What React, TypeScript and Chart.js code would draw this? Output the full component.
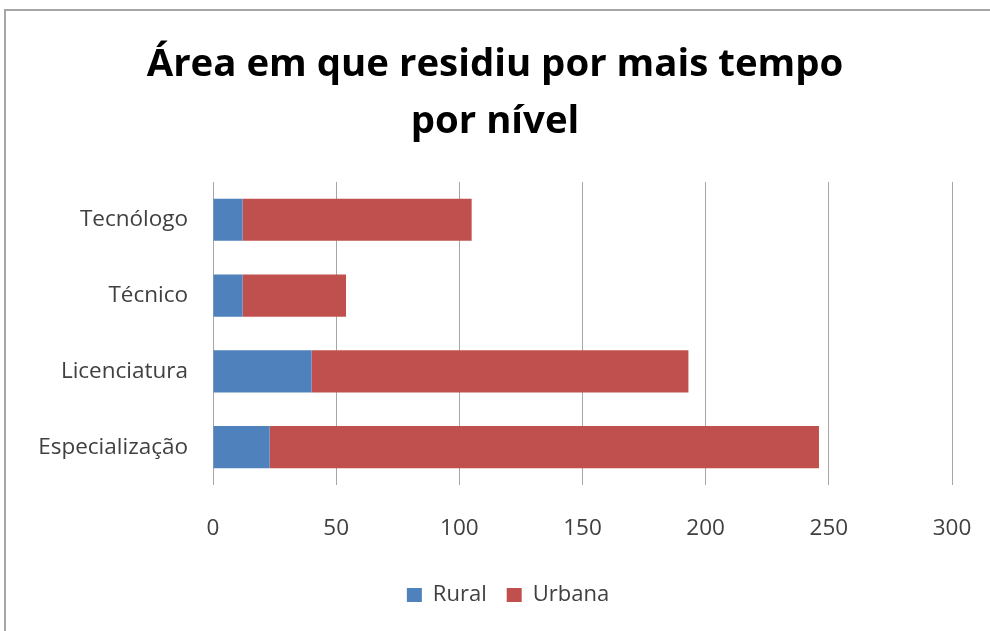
import React, { useEffect, useRef } from "react";
import { Chart, registerables } from "chart.js";

Chart.register(...registerables);

const categories = ["Tecnólogo", "Técnico", "Licenciatura", "Especialização"];
const ruralValues = [12, 12, 40, 23];
const urbanaValues = [93, 42, 153, 223];
const seriesNames = ["Rural", "Urbana"];
const titleLines = ["Área em que residiu por mais tempo", "por nível"];
const xTicks = [0, 50, 100, 150, 200, 250, 300];

const FONT = "'Open Sans', 'Noto Sans', sans-serif";

export default function App() {
  const ref = useRef<HTMLCanvasElement | null>(null);

  useEffect(() => {
    if (!ref.current) return;
    const legendShift = {
      id: "legendShift",
      afterLayout(chart: any) {
        const l = chart.legend;
        if (l) {
          l.left += 13;
          l.right += 13;
        }
      },
    };
    const chart = new Chart(ref.current, {
      type: "bar",
      data: {
        labels: categories,
        datasets: [
          {
            label: seriesNames[0],
            data: ruralValues,
            backgroundColor: "#4F81BD",
            borderWidth: 0,
            categoryPercentage: 1,
            barPercentage: 0.555,
          },
          {
            label: seriesNames[1],
            data: urbanaValues,
            backgroundColor: "#C0504D",
            borderWidth: 0,
            categoryPercentage: 1,
            barPercentage: 0.555,
          },
        ],
      },
      plugins: [legendShift],
      options: {
        indexAxis: "y",
        animation: false,
        responsive: false,
        layout: { padding: { left: 0, right: 0, top: 0, bottom: 15 } },
        scales: {
          x: {
            stacked: true,
            min: 0,
            max: 300,
            afterBuildTicks: (s: any) => {
              s.ticks = xTicks.map((v) => ({ value: v }));
            },
            afterFit: (s: any) => {
              s.height = 79;
              s.paddingRight = 38;
            },
            grid: { color: "#a6a6a6", lineWidth: 1, drawTicks: false, tickLength: 0 },
            border: { display: false },
            ticks: {
              padding: 30,
              color: "#404040",
              font: { family: FONT, size: 22.5 },
              maxRotation: 0,
            },
          },
          y: {
            stacked: true,
            afterFit: (s: any) => {
              s.width = 213;
            },
            grid: { display: false, drawTicks: false, tickLength: 0 },
            border: { display: false },
            ticks: {
              padding: 25,
              color: "#404040",
              font: { family: FONT, size: 22.5 },
            },
          },
        },
        plugins: {
          title: {
            display: true,
            text: titleLines,
            color: "#000000",
            font: { family: FONT, size: 38.4, weight: "bold", lineHeight: 1.484 },
            padding: { top: 37, bottom: 31 },
          },
          legend: {
            display: true,
            position: "bottom",
            labels: {
              boxWidth: 15,
              boxHeight: 14,
              padding: 20,
              color: "#404040",
              font: { family: FONT, size: 22 },
            },
          },
          tooltip: { enabled: false },
        },
      },
    } as any);
    return () => chart.destroy();
  }, []);

  return (
    <div
      style={{
        position: "fixed",
        left: 0,
        top: 0,
        width: 990,
        height: 631,
        overflow: "hidden",
        background: "#ffffff",
      }}
    >
      <div
        style={{
          position: "absolute",
          left: 4,
          top: 9,
          width: 2000,
          height: 2000,
          border: "2px solid #a6a6a6",
        }}
      />
      <canvas
        ref={ref}
        width={990}
        height={631}
        style={{ position: "absolute", left: 0, top: 0, width: 990, height: 631 }}
      />
    </div>
  );
}
